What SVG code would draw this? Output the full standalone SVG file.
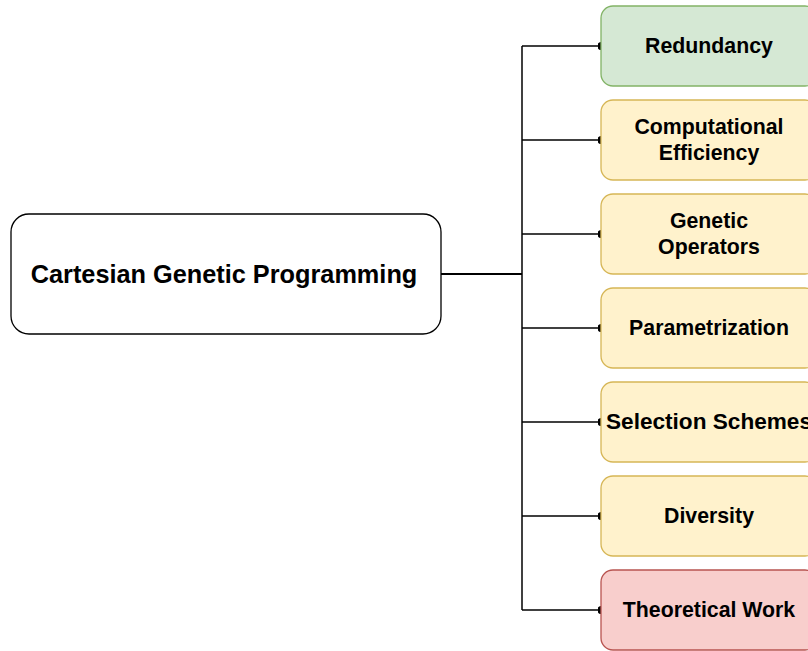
<svg xmlns="http://www.w3.org/2000/svg" width="808" height="651" viewBox="0 0 808 651">
<style>
text{font-family:"Liberation Sans",Arial,sans-serif;font-weight:bold;fill:#000;text-anchor:middle;dominant-baseline:central}
.t{font-size:21.3px}
.m{font-size:25.3px}
.e{fill:none;stroke:#000;stroke-width:1.5}
.g{fill:#d5e8d4;stroke:#82b366;stroke-width:1.3}
.y{fill:#fff2cc;stroke:#d6b656;stroke-width:1.3}
.r{fill:#f8cecc;stroke:#b85450;stroke-width:1.3}
</style>
<defs>
<marker id="dot" viewBox="0 0 10 10" refX="5" refY="5" markerWidth="7" markerHeight="8" markerUnits="userSpaceOnUse" orient="auto" preserveAspectRatio="none"><ellipse cx="5" cy="5" rx="5" ry="5" fill="#000"/></marker>
</defs>
<g id="connectors">
<path class="e" d="M441 274H522" style="stroke-width:2"/>
<path class="e" d="M522 46V610"/>
<path class="e" d="M522 46H601" marker-end="url(#dot)"/>
<path class="e" d="M522 140H601" marker-end="url(#dot)"/>
<path class="e" d="M522 234H601" marker-end="url(#dot)"/>
<path class="e" d="M522 328H601" marker-end="url(#dot)"/>
<path class="e" d="M522 422H601" marker-end="url(#dot)"/>
<path class="e" d="M522 516H601" marker-end="url(#dot)"/>
<path class="e" d="M522 610H601" marker-end="url(#dot)"/>
</g>
<g id="main"><rect x="11" y="214" width="430" height="120" rx="18" fill="#fff" stroke="#000" stroke-width="1.3"/><text class="m" x="224" y="274">Cartesian Genetic Programming</text></g>
<g id="redundancy"><rect class="g" x="601" y="6" width="216" height="80" rx="12"/><text class="t" x="709" y="46">Redundancy</text></g>
<g id="efficiency"><rect class="y" x="601" y="100" width="216" height="80" rx="12"/><text class="t" x="709" y="127">Computational</text><text class="t" x="709" y="153">Efficiency</text></g>
<g id="operators"><rect class="y" x="601" y="194" width="216" height="80" rx="12"/><text class="t" x="709" y="221">Genetic</text><text class="t" x="709" y="247">Operators</text></g>
<g id="parametrization"><rect class="y" x="601" y="288" width="216" height="80" rx="12"/><text class="t" x="709" y="328">Parametrization</text></g>
<g id="selection"><rect class="y" x="601" y="382" width="216" height="80" rx="12"/><text class="t" x="606" y="422" style="text-anchor:start" textLength="206" lengthAdjust="spacingAndGlyphs">Selection Schemes</text></g>
<g id="diversity"><rect class="y" x="601" y="476" width="216" height="80" rx="12"/><text class="t" x="709" y="516">Diversity</text></g>
<g id="theoretical"><rect class="r" x="601" y="570" width="216" height="80" rx="12"/><text class="t" x="709" y="610">Theoretical Work</text></g>
</svg>
